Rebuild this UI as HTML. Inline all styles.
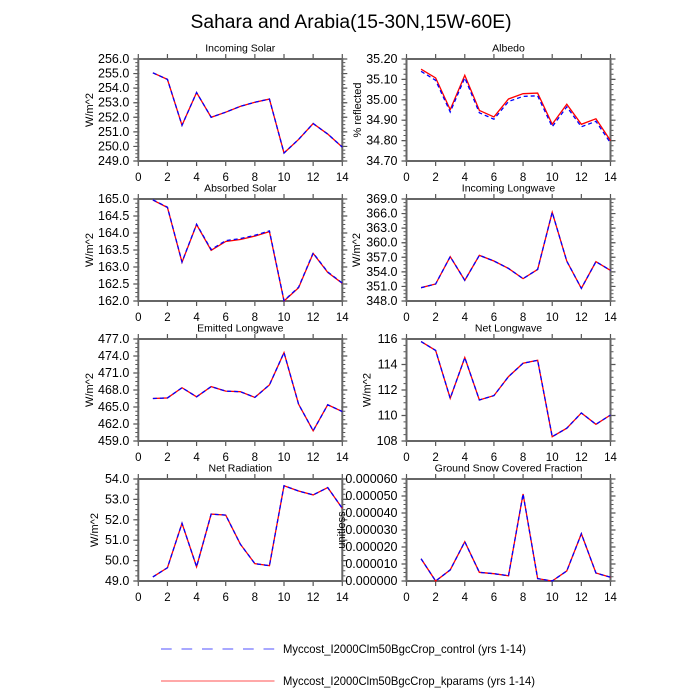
<!DOCTYPE html>
<html><head><meta charset="utf-8">
<style>
html,body{margin:0;padding:0;background:#fff;}
svg{display:block;}
text{font-family:"Liberation Sans",Arial,sans-serif;fill:#000;}
.yl{font-size:12.5px;text-anchor:end;}
.xl{font-size:11.5px;text-anchor:middle;}
.pt{font-size:10.5px;text-anchor:middle;}
.yt{font-size:11px;text-anchor:middle;}
.fr{fill:none;stroke:#666;stroke-width:2;}
.tk{stroke:#555;fill:none;}
.r{fill:none;stroke:#ff0000;stroke-width:1.3;}
.b{fill:none;stroke:#0000ff;stroke-width:1.3;stroke-dasharray:4 3;}
</style></head>
<body>
<svg width="700" height="700" viewBox="0 0 700 700" xmlns="http://www.w3.org/2000/svg">
<rect width="700" height="700" fill="#fff"/>
<text x="351" y="28" style="font-size:19.3px;text-anchor:middle" textLength="321" lengthAdjust="spacingAndGlyphs">Sahara and Arabia(15-30N,15W-60E)</text>

<!-- ===== Panel 1: Incoming Solar (L, row1) ===== -->
<g>
<text class="pt" x="240.3" y="51.5">Incoming Solar</text>
<line class="tk" x1="136.3" y1="58.4" x2="136.3" y2="162" stroke-width="6" stroke-dasharray="1.2 13.371"/>
<line class="tk" x1="136.8" y1="58.5" x2="136.8" y2="162" stroke-width="3" stroke-dasharray="1 2.643"/>
<line class="tk" x1="344.3" y1="58.4" x2="344.3" y2="162" stroke-width="6" stroke-dasharray="1.2 13.371"/>
<line class="tk" x1="343.8" y1="58.5" x2="343.8" y2="162" stroke-width="3" stroke-dasharray="1 2.643"/>
<line class="tk" x1="137.7" y1="56.5" x2="343.2" y2="56.5" stroke-width="5" stroke-dasharray="1.2 27.942"/>
<line class="tk" x1="137.7" y1="163.5" x2="343.2" y2="163.5" stroke-width="5" stroke-dasharray="1.2 27.942"/>
<rect class="fr" x="138.3" y="59" width="204" height="102"/>
<polyline class="r" points="152.87,72.84 167.44,79.40 182.01,125.30 196.58,92.51 211.16,117.28 225.73,112.18 240.30,106.36 254.87,102.28 269.44,99.07 284.01,152.98 298.58,139.43 313.15,123.55 327.73,134.04 342.3,147.15"/>
<polyline class="b" points="152.87,72.84 167.44,79.40 182.01,125.30 196.58,92.51 211.16,117.28 225.73,112.18 240.30,106.36 254.87,102.28 269.44,99.07 284.01,152.98 298.58,139.43 313.15,123.55 327.73,134.04 342.3,147.15"/>
<text class="yl" x="129.3" y="63">256.0</text>
<text class="yl" x="129.3" y="77.57">255.0</text>
<text class="yl" x="129.3" y="92.14">254.0</text>
<text class="yl" x="129.3" y="106.71">253.0</text>
<text class="yl" x="129.3" y="121.29">252.0</text>
<text class="yl" x="129.3" y="135.86">251.0</text>
<text class="yl" x="129.3" y="150.43">250.0</text>
<text class="yl" x="129.3" y="165">249.0</text>
<text class="yt" transform="translate(93,110) rotate(-90)">W/m^2</text>
<text class="xl" x="138.3" y="181">0</text><text class="xl" x="167.44" y="181">2</text><text class="xl" x="196.58" y="181">4</text><text class="xl" x="225.73" y="181">6</text><text class="xl" x="254.87" y="181">8</text><text class="xl" x="284.01" y="181">10</text><text class="xl" x="313.15" y="181">12</text><text class="xl" x="342.3" y="181">14</text>
</g>

<!-- ===== Panel 2: Albedo (R, row1) ===== -->
<g>
<text class="pt" x="508.5" y="51.5">Albedo</text>
<line class="tk" x1="404.5" y1="58.4" x2="404.5" y2="162" stroke-width="6" stroke-dasharray="1.2 19.2"/>
<line class="tk" x1="405" y1="58.5" x2="405" y2="162" stroke-width="3" stroke-dasharray="1 4.1"/>
<line class="tk" x1="612.5" y1="58.4" x2="612.5" y2="162" stroke-width="6" stroke-dasharray="1.2 19.2"/>
<line class="tk" x1="612" y1="58.5" x2="612" y2="162" stroke-width="3" stroke-dasharray="1 4.1"/>
<line class="tk" x1="405.9" y1="56.5" x2="611.4" y2="56.5" stroke-width="5" stroke-dasharray="1.2 27.942"/>
<line class="tk" x1="405.9" y1="163.5" x2="611.4" y2="163.5" stroke-width="5" stroke-dasharray="1.2 27.942"/>
<rect class="fr" x="406.5" y="59" width="204" height="102"/>
<polyline class="r" points="421.07,69.2 435.64,77.97 450.21,109.59 464.79,75.32 479.36,110.41 493.93,116.94 508.5,98.98 523.07,93.68 537.64,93.07 552.21,124.28 566.79,104.29 581.36,124.28 595.93,118.77 610.5,140.6"/>
<polyline class="b" points="421.07,71.3 435.64,80.3 450.21,112.0 464.79,77.8 479.36,112.8 493.93,119.2 508.5,101.5 523.07,96.4 537.64,95.8 552.21,126.8 566.79,106.8 581.36,126.8 595.93,121.3 610.5,143"/>
<text class="yl" x="397.5" y="63">35.20</text>
<text class="yl" x="397.5" y="83.4">35.10</text>
<text class="yl" x="397.5" y="103.8">35.00</text>
<text class="yl" x="397.5" y="124.2">34.90</text>
<text class="yl" x="397.5" y="144.6">34.80</text>
<text class="yl" x="397.5" y="165">34.70</text>
<text class="yt" transform="translate(361,110) rotate(-90)">% reflected</text>
<text class="xl" x="406.5" y="181">0</text><text class="xl" x="435.64" y="181">2</text><text class="xl" x="464.79" y="181">4</text><text class="xl" x="493.93" y="181">6</text><text class="xl" x="523.07" y="181">8</text><text class="xl" x="552.21" y="181">10</text><text class="xl" x="581.36" y="181">12</text><text class="xl" x="610.5" y="181">14</text>
</g>

<!-- ===== Panel 3: Absorbed Solar (L, row2) ===== -->
<g>
<text class="pt" x="240.3" y="191.5">Absorbed Solar</text>
<line class="tk" x1="136.3" y1="198.4" x2="136.3" y2="302" stroke-width="6" stroke-dasharray="1.2 15.8"/>
<line class="tk" x1="136.8" y1="198.5" x2="136.8" y2="302" stroke-width="3" stroke-dasharray="1 3.25"/>
<line class="tk" x1="344.3" y1="198.4" x2="344.3" y2="302" stroke-width="6" stroke-dasharray="1.2 15.8"/>
<line class="tk" x1="343.8" y1="198.5" x2="343.8" y2="302" stroke-width="3" stroke-dasharray="1 3.25"/>
<line class="tk" x1="137.7" y1="196.5" x2="343.2" y2="196.5" stroke-width="5" stroke-dasharray="1.2 27.942"/>
<line class="tk" x1="137.7" y1="303.5" x2="343.2" y2="303.5" stroke-width="5" stroke-dasharray="1.2 27.942"/>
<rect class="fr" x="138.3" y="199" width="204" height="102"/>
<polyline class="r" points="152.87,200.02 167.44,207.5 182.01,262.24 196.58,224.5 211.16,250.34 225.73,241.5 240.30,239.46 254.87,236.06 269.44,231.64 284.01,301 298.58,287.74 313.15,253.4 327.73,272.44 342.3,283.32"/>
<polyline class="b" points="152.87,199.8 167.44,207.2 182.01,262.0 196.58,224.2 211.16,249.6 225.73,240.6 240.30,238.6 254.87,235.3 269.44,230.9 284.01,300.6 298.58,287.2 313.15,253.0 327.73,272.0 342.3,283.0"/>
<text class="yl" x="129.3" y="203">165.0</text>
<text class="yl" x="129.3" y="220">164.5</text>
<text class="yl" x="129.3" y="237">164.0</text>
<text class="yl" x="129.3" y="254">163.5</text>
<text class="yl" x="129.3" y="271">163.0</text>
<text class="yl" x="129.3" y="288">162.5</text>
<text class="yl" x="129.3" y="305">162.0</text>
<text class="yt" transform="translate(93,250) rotate(-90)">W/m^2</text>
<text class="xl" x="138.3" y="321">0</text><text class="xl" x="167.44" y="321">2</text><text class="xl" x="196.58" y="321">4</text><text class="xl" x="225.73" y="321">6</text><text class="xl" x="254.87" y="321">8</text><text class="xl" x="284.01" y="321">10</text><text class="xl" x="313.15" y="321">12</text><text class="xl" x="342.3" y="321">14</text>
</g>

<!-- ===== Panel 4: Incoming Longwave (R, row2) ===== -->
<g>
<text class="pt" x="508.5" y="191.5">Incoming Longwave</text>
<line class="tk" x1="404.5" y1="198.4" x2="404.5" y2="302" stroke-width="6" stroke-dasharray="1.2 13.371"/>
<line class="tk" x1="405" y1="198.5" x2="405" y2="302" stroke-width="3" stroke-dasharray="1 2.643"/>
<line class="tk" x1="612.5" y1="198.4" x2="612.5" y2="302" stroke-width="6" stroke-dasharray="1.2 13.371"/>
<line class="tk" x1="612" y1="198.5" x2="612" y2="302" stroke-width="3" stroke-dasharray="1 2.643"/>
<line class="tk" x1="405.9" y1="196.5" x2="611.4" y2="196.5" stroke-width="5" stroke-dasharray="1.2 27.942"/>
<line class="tk" x1="405.9" y1="303.5" x2="611.4" y2="303.5" stroke-width="5" stroke-dasharray="1.2 27.942"/>
<rect class="fr" x="406.5" y="199" width="204" height="102"/>
<polyline class="r" points="421.07,287.69 435.64,284.0 450.21,256.65 464.79,280.31 479.36,255.34 493.93,261.02 508.5,268.46 523.07,278.65 537.64,269.43 552.21,212.36 566.79,261.17 581.36,288.37 595.93,261.66 610.5,270.40"/>
<polyline class="b" points="421.07,287.69 435.64,284.0 450.21,256.65 464.79,280.31 479.36,255.34 493.93,261.02 508.5,268.46 523.07,278.65 537.64,269.43 552.21,212.36 566.79,261.17 581.36,288.37 595.93,261.66 610.5,270.40"/>
<text class="yl" x="397.5" y="203">369.0</text>
<text class="yl" x="397.5" y="217.57">366.0</text>
<text class="yl" x="397.5" y="232.14">363.0</text>
<text class="yl" x="397.5" y="246.71">360.0</text>
<text class="yl" x="397.5" y="261.29">357.0</text>
<text class="yl" x="397.5" y="275.86">354.0</text>
<text class="yl" x="397.5" y="290.43">351.0</text>
<text class="yl" x="397.5" y="305">348.0</text>
<text class="yt" transform="translate(360,250) rotate(-90)">W/m^2</text>
<text class="xl" x="406.5" y="321">0</text><text class="xl" x="435.64" y="321">2</text><text class="xl" x="464.79" y="321">4</text><text class="xl" x="493.93" y="321">6</text><text class="xl" x="523.07" y="321">8</text><text class="xl" x="552.21" y="321">10</text><text class="xl" x="581.36" y="321">12</text><text class="xl" x="610.5" y="321">14</text>
</g>

<!-- ===== Panel 5: Emitted Longwave (L, row3) ===== -->
<g>
<text class="pt" x="240.3" y="331.5">Emitted Longwave</text>
<line class="tk" x1="136.3" y1="338.4" x2="136.3" y2="442" stroke-width="6" stroke-dasharray="1.2 15.8"/>
<line class="tk" x1="136.8" y1="338.5" x2="136.8" y2="442" stroke-width="3" stroke-dasharray="1 3.25"/>
<line class="tk" x1="344.3" y1="338.4" x2="344.3" y2="442" stroke-width="6" stroke-dasharray="1.2 15.8"/>
<line class="tk" x1="343.8" y1="338.5" x2="343.8" y2="442" stroke-width="3" stroke-dasharray="1 3.25"/>
<line class="tk" x1="137.7" y1="336.5" x2="343.2" y2="336.5" stroke-width="5" stroke-dasharray="1.2 27.942"/>
<line class="tk" x1="137.7" y1="443.5" x2="343.2" y2="443.5" stroke-width="5" stroke-dasharray="1.2 27.942"/>
<rect class="fr" x="138.3" y="339" width="204" height="102"/>
<polyline class="r" points="152.87,398.5 167.44,397.93 182.01,387.73 196.58,396.8 211.16,386.6 225.73,391.13 240.30,391.7 254.87,397.37 269.44,384.9 284.01,352.6 298.58,404.17 313.15,430.8 327.73,404.73 342.3,411.53"/>
<polyline class="b" points="152.87,398.5 167.44,397.93 182.01,387.73 196.58,396.8 211.16,386.6 225.73,391.13 240.30,391.7 254.87,397.37 269.44,384.9 284.01,352.6 298.58,404.17 313.15,430.8 327.73,404.73 342.3,411.53"/>
<text class="yl" x="129.3" y="343">477.0</text>
<text class="yl" x="129.3" y="360">474.0</text>
<text class="yl" x="129.3" y="377">471.0</text>
<text class="yl" x="129.3" y="394">468.0</text>
<text class="yl" x="129.3" y="411">465.0</text>
<text class="yl" x="129.3" y="428">462.0</text>
<text class="yl" x="129.3" y="445">459.0</text>
<text class="yt" transform="translate(93,390) rotate(-90)">W/m^2</text>
<text class="xl" x="138.3" y="461">0</text><text class="xl" x="167.44" y="461">2</text><text class="xl" x="196.58" y="461">4</text><text class="xl" x="225.73" y="461">6</text><text class="xl" x="254.87" y="461">8</text><text class="xl" x="284.01" y="461">10</text><text class="xl" x="313.15" y="461">12</text><text class="xl" x="342.3" y="461">14</text>
</g>

<!-- ===== Panel 6: Net Longwave (R, row3) ===== -->
<g>
<text class="pt" x="508.5" y="331.5">Net Longwave</text>
<line class="tk" x1="404.5" y1="338.4" x2="404.5" y2="442" stroke-width="6" stroke-dasharray="1.2 24.3"/>
<line class="tk" x1="405" y1="338.5" x2="405" y2="442" stroke-width="3" stroke-dasharray="1 5.375"/>
<line class="tk" x1="612.5" y1="338.4" x2="612.5" y2="442" stroke-width="6" stroke-dasharray="1.2 24.3"/>
<line class="tk" x1="612" y1="338.5" x2="612" y2="442" stroke-width="3" stroke-dasharray="1 5.375"/>
<line class="tk" x1="405.9" y1="336.5" x2="611.4" y2="336.5" stroke-width="5" stroke-dasharray="1.2 27.942"/>
<line class="tk" x1="405.9" y1="443.5" x2="611.4" y2="443.5" stroke-width="5" stroke-dasharray="1.2 27.942"/>
<rect class="fr" x="406.5" y="339" width="204" height="102"/>
<polyline class="r" points="421.07,341.55 435.64,350.48 450.21,398.29 464.79,357.62 479.36,399.95 493.93,395.61 508.5,376.61 523.07,363.23 537.64,360.29 552.21,436.67 566.79,428.25 581.36,412.95 595.93,424.3 610.5,414.99"/>
<polyline class="b" points="421.07,341.55 435.64,350.48 450.21,398.29 464.79,357.62 479.36,399.95 493.93,395.61 508.5,376.61 523.07,363.23 537.64,360.29 552.21,436.67 566.79,428.25 581.36,412.95 595.93,424.3 610.5,414.99"/>
<text class="yl" x="397.5" y="343">116</text>
<text class="yl" x="397.5" y="368.5">114</text>
<text class="yl" x="397.5" y="394">112</text>
<text class="yl" x="397.5" y="419.5">110</text>
<text class="yl" x="397.5" y="445">108</text>
<text class="yt" transform="translate(370.5,390) rotate(-90)">W/m^2</text>
<text class="xl" x="406.5" y="461">0</text><text class="xl" x="435.64" y="461">2</text><text class="xl" x="464.79" y="461">4</text><text class="xl" x="493.93" y="461">6</text><text class="xl" x="523.07" y="461">8</text><text class="xl" x="552.21" y="461">10</text><text class="xl" x="581.36" y="461">12</text><text class="xl" x="610.5" y="461">14</text>
</g>

<!-- ===== Panel 7: Net Radiation (L, row4) ===== -->
<g>
<text class="pt" x="240.3" y="471.5">Net Radiation</text>
<line class="tk" x1="136.3" y1="478.4" x2="136.3" y2="582" stroke-width="6" stroke-dasharray="1.2 19.2"/>
<line class="tk" x1="136.8" y1="478.5" x2="136.8" y2="582" stroke-width="3" stroke-dasharray="1 4.1"/>
<line class="tk" x1="344.3" y1="478.4" x2="344.3" y2="582" stroke-width="6" stroke-dasharray="1.2 19.2"/>
<line class="tk" x1="343.8" y1="478.5" x2="343.8" y2="582" stroke-width="3" stroke-dasharray="1 4.1"/>
<line class="tk" x1="137.7" y1="476.5" x2="343.2" y2="476.5" stroke-width="5" stroke-dasharray="1.2 27.942"/>
<line class="tk" x1="137.7" y1="583.5" x2="343.2" y2="583.5" stroke-width="5" stroke-dasharray="1.2 27.942"/>
<rect class="fr" x="138.3" y="479" width="204" height="102"/>
<polyline class="r" points="152.87,576.92 167.44,567.74 182.01,523.27 196.58,566.72 211.16,514.09 225.73,515.11 240.30,544.08 254.87,563.66 269.44,565.7 284.01,485.73 298.58,491.04 313.15,494.91 327.73,487.57 342.3,508.38"/>
<polyline class="b" points="152.87,576.92 167.44,567.74 182.01,523.27 196.58,566.72 211.16,514.09 225.73,515.11 240.30,544.08 254.87,563.66 269.44,565.7 284.01,485.73 298.58,491.04 313.15,494.91 327.73,487.57 342.3,508.38"/>
<text class="yl" x="129.3" y="483">54.0</text>
<text class="yl" x="129.3" y="503.4">53.0</text>
<text class="yl" x="129.3" y="523.8">52.0</text>
<text class="yl" x="129.3" y="544.2">51.0</text>
<text class="yl" x="129.3" y="564.6">50.0</text>
<text class="yl" x="129.3" y="585">49.0</text>
<text class="yt" transform="translate(98,530) rotate(-90)">W/m^2</text>
<text class="xl" x="138.3" y="601">0</text><text class="xl" x="167.44" y="601">2</text><text class="xl" x="196.58" y="601">4</text><text class="xl" x="225.73" y="601">6</text><text class="xl" x="254.87" y="601">8</text><text class="xl" x="284.01" y="601">10</text><text class="xl" x="313.15" y="601">12</text><text class="xl" x="342.3" y="601">14</text>
</g>

<!-- ===== Panel 8: Ground Snow Covered Fraction (R, row4) ===== -->
<g>
<text class="pt" x="508.5" y="471.5">Ground Snow Covered Fraction</text>
<line class="tk" x1="404.5" y1="478.4" x2="404.5" y2="582" stroke-width="6" stroke-dasharray="1.2 15.8"/>
<line class="tk" x1="405" y1="478.5" x2="405" y2="582" stroke-width="3" stroke-dasharray="1 3.25"/>
<line class="tk" x1="612.5" y1="478.4" x2="612.5" y2="582" stroke-width="6" stroke-dasharray="1.2 15.8"/>
<line class="tk" x1="612" y1="478.5" x2="612" y2="582" stroke-width="3" stroke-dasharray="1 3.25"/>
<line class="tk" x1="405.9" y1="476.5" x2="611.4" y2="476.5" stroke-width="5" stroke-dasharray="1.2 27.942"/>
<line class="tk" x1="405.9" y1="583.5" x2="611.4" y2="583.5" stroke-width="5" stroke-dasharray="1.2 27.942"/>
<rect class="fr" x="406.5" y="479" width="204" height="102"/>
<polyline class="r" points="421.07,558.73 435.64,581 450.21,569.95 464.79,541.73 479.36,572.33 493.93,573.69 508.5,575.73 523.07,493.96 537.64,578.62 552.21,581 566.79,570.97 581.36,533.74 595.93,573.01 610.5,577.26"/>
<polyline class="b" points="421.07,558.73 435.64,581 450.21,569.95 464.79,541.73 479.36,572.33 493.93,573.69 508.5,575.73 523.07,493.96 537.64,578.62 552.21,581 566.79,570.97 581.36,533.74 595.93,573.01 610.5,577.26"/>
<text class="yl" x="397.5" y="483">0.000060</text>
<text class="yl" x="397.5" y="500">0.000050</text>
<text class="yl" x="397.5" y="517">0.000040</text>
<text class="yl" x="397.5" y="534">0.000030</text>
<text class="yl" x="397.5" y="551">0.000020</text>
<text class="yl" x="397.5" y="568">0.000010</text>
<text class="yl" x="397.5" y="585">0.000000</text>
<text class="yt" transform="translate(345,530) rotate(-90)">unitless</text>
<text class="xl" x="406.5" y="601">0</text><text class="xl" x="435.64" y="601">2</text><text class="xl" x="464.79" y="601">4</text><text class="xl" x="493.93" y="601">6</text><text class="xl" x="523.07" y="601">8</text><text class="xl" x="552.21" y="601">10</text><text class="xl" x="581.36" y="601">12</text><text class="xl" x="610.5" y="601">14</text>
</g>

<!-- ===== Legend ===== -->
<line x1="161" y1="649" x2="274.5" y2="649" stroke="#7373ff" stroke-width="1.2" stroke-dasharray="10.7 9.8"/>
<text x="283" y="653" style="font-size:12px" textLength="243" lengthAdjust="spacingAndGlyphs">Myccost_I2000Clm50BgcCrop_control (yrs 1-14)</text>
<line x1="161" y1="681" x2="274.5" y2="681" stroke="#ff7373" stroke-width="1.2"/>
<text x="283" y="685" style="font-size:12px" textLength="252" lengthAdjust="spacingAndGlyphs">Myccost_I2000Clm50BgcCrop_kparams (yrs 1-14)</text>
</svg>
</body></html>
